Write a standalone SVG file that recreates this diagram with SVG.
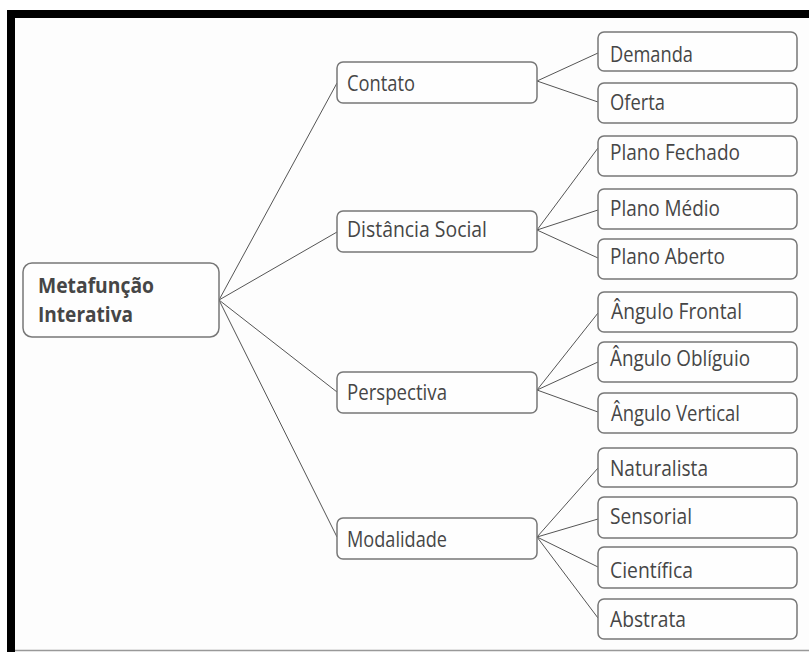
<svg xmlns="http://www.w3.org/2000/svg" width="809" height="652" viewBox="0 0 809 652">
<style>
.box{fill:#fefefe;stroke:#777;stroke-width:1.5}
.t{font-family:"Open Sans","Noto Sans",sans-serif;font-size:21px;fill:#464646}
.b{font-weight:bold}
.c{stroke:#555;stroke-width:1;fill:none}
</style>
<rect x="0" y="0" width="809" height="652" fill="#ffffff"/>
<rect x="15" y="18" width="794" height="632" fill="#fdfdfd"/>
<rect x="7" y="10" width="802" height="8" fill="#000"/>
<rect x="7" y="10" width="8" height="642" fill="#000"/>
<line x1="15" y1="650.5" x2="809" y2="650.5" stroke="#999" stroke-width="1.5"/>
<g id="connectors" class="c">
<path d="M219 300L337 83M219 300L337 232M219 300L337 392M219 300L337 537"/>
<path d="M537 81L598 53M537 81L598 102"/>
<path d="M537 230L598 148M537 230L598 210M537 230L598 258"/>
<path d="M537 390L598 313M537 390L598 362M537 390L598 412"/>
<path d="M537 537L598 468M537 537L598 519M537 537L598 567M537 537L598 618"/>
</g>
<g id="root"><rect class="box" x="23" y="263" width="196" height="74" rx="9"/>
<text class="t b" x="38" y="293" textLength="116" lengthAdjust="spacingAndGlyphs">Metafunção</text>
<text class="t b" x="38" y="322" textLength="95" lengthAdjust="spacingAndGlyphs">Interativa</text></g>
<g id="contato"><rect class="box" x="337" y="62" width="200" height="41" rx="6"/><text class="t" x="347" y="91" textLength="68" lengthAdjust="spacingAndGlyphs">Contato</text></g>
<g id="distancia"><rect class="box" x="337" y="211" width="200" height="41" rx="6"/><text class="t" x="347" y="236.5" textLength="140" lengthAdjust="spacingAndGlyphs">Distância Social</text></g>
<g id="perspectiva"><rect class="box" x="337" y="372" width="200" height="41" rx="6"/><text class="t" x="347" y="400" textLength="100" lengthAdjust="spacingAndGlyphs">Perspectiva</text></g>
<g id="modalidade"><rect class="box" x="337" y="518" width="200" height="41" rx="6"/><text class="t" x="347" y="547" textLength="100" lengthAdjust="spacingAndGlyphs">Modalidade</text></g>
<g id="demanda"><rect class="box" x="598" y="32" width="199" height="39" rx="6"/><text class="t" x="610" y="62" textLength="83" lengthAdjust="spacingAndGlyphs">Demanda</text></g>
<g id="oferta"><rect class="box" x="598" y="83" width="199" height="40" rx="6"/><text class="t" x="610" y="110" textLength="55" lengthAdjust="spacingAndGlyphs">Oferta</text></g>
<g id="fechado"><rect class="box" x="598" y="136" width="199" height="40" rx="6"/><text class="t" x="610" y="160" textLength="130" lengthAdjust="spacingAndGlyphs">Plano Fechado</text></g>
<g id="medio"><rect class="box" x="598" y="189" width="199" height="40" rx="6"/><text class="t" x="610" y="216" textLength="110" lengthAdjust="spacingAndGlyphs">Plano Médio</text></g>
<g id="aberto"><rect class="box" x="598" y="239" width="199" height="40" rx="6"/><text class="t" x="610" y="264" textLength="115" lengthAdjust="spacingAndGlyphs">Plano Aberto</text></g>
<g id="frontal"><rect class="box" x="598" y="292" width="199" height="40" rx="6"/><text class="t" x="611" y="319" textLength="131" lengthAdjust="spacingAndGlyphs">Ângulo Frontal</text></g>
<g id="obliquio"><rect class="box" x="598" y="342" width="199" height="40" rx="6"/><text class="t" x="610" y="366" textLength="140" lengthAdjust="spacingAndGlyphs">Ângulo Oblíguio</text></g>
<g id="vertical"><rect class="box" x="598" y="393" width="199" height="40" rx="6"/><text class="t" x="611" y="421" textLength="129" lengthAdjust="spacingAndGlyphs">Ângulo Vertical</text></g>
<g id="naturalista"><rect class="box" x="598" y="448" width="199" height="39" rx="6"/><text class="t" x="610" y="476" textLength="98" lengthAdjust="spacingAndGlyphs">Naturalista</text></g>
<g id="sensorial"><rect class="box" x="598" y="497" width="199" height="41" rx="6"/><text class="t" x="610" y="524" textLength="82" lengthAdjust="spacingAndGlyphs">Sensorial</text></g>
<g id="cientifica"><rect class="box" x="598" y="547" width="199" height="41" rx="6"/><text class="t" x="610" y="578" textLength="83" lengthAdjust="spacingAndGlyphs">Científica</text></g>
<g id="abstrata"><rect class="box" x="598" y="599" width="199" height="40" rx="6"/><text class="t" x="610" y="627" textLength="76" lengthAdjust="spacingAndGlyphs">Abstrata</text></g>
</svg>
